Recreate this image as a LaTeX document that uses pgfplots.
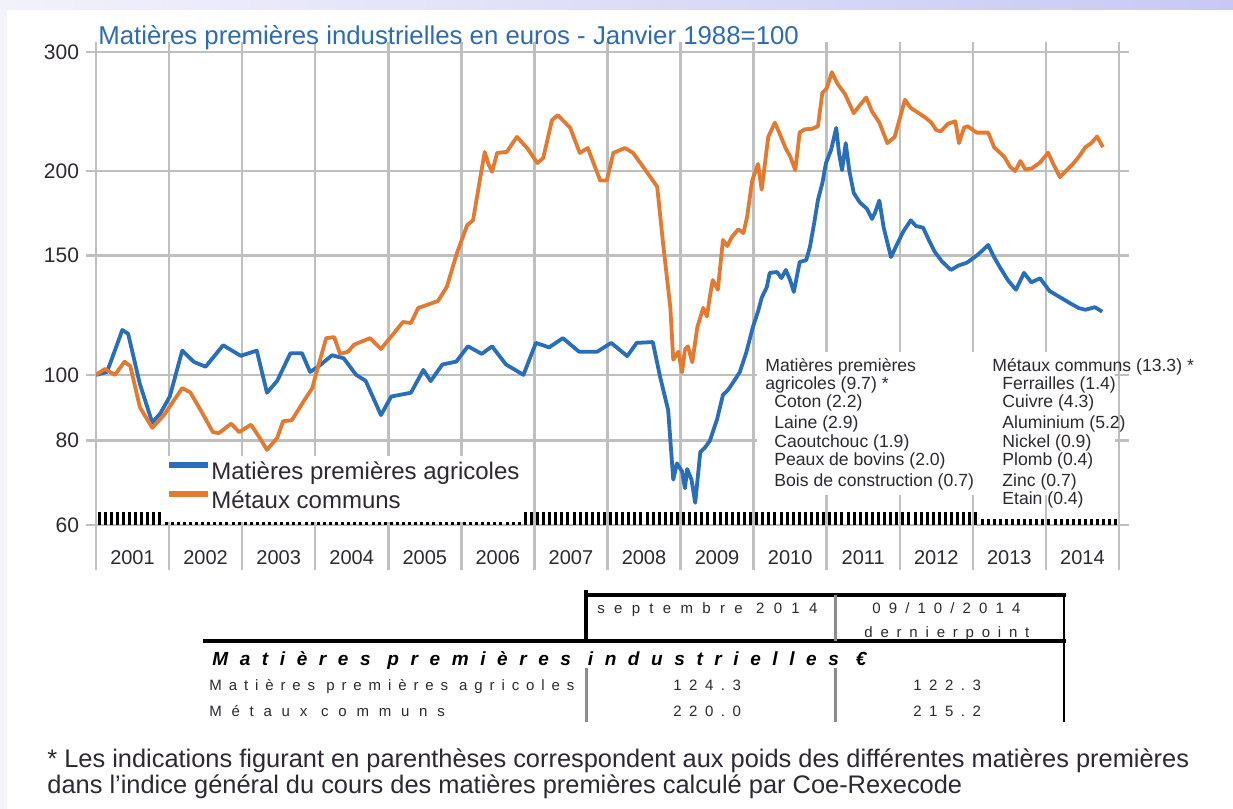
\documentclass[border=0pt]{standalone}
\usepackage{fontspec}
\setmainfont{Liberation Sans}
\usepackage{pgfplots}
\pgfplotsset{compat=1.18}
\definecolor{gridgray}{RGB}{191,191,191}
\definecolor{agblue}{RGB}{40,110,185}
\definecolor{metorange}{RGB}{226,122,50}
\definecolor{titleblue}{RGB}{46,108,178}
\definecolor{txt}{RGB}{45,40,50}
\definecolor{tabgray}{RGB}{140,140,140}
\definecolor{lavA}{RGB}{242,242,252}
\definecolor{lavB}{RGB}{200,200,245}
\definecolor{lavC}{RGB}{244,244,253}

\begin{document}
\begin{tikzpicture}
\begin{scope}[x=0.5pt,y=-0.5pt]
\fill[white] (0,0) rectangle (1233,809);
\shade[left color=lavA, right color=lavB] (0,0) rectangle (1233,9);
\fill[lavC] (0,9) rectangle (7,809);
\end{scope}

\begin{axis}[
  at={(48pt,-262.5pt)}, anchor=south west,
  scale only axis, width=511.5pt, height=236.5pt,
  xmin=2001, xmax=2015,
  ymode=log, ymin=60, ymax=300,
  ytick={60,80,100,150,200,300},
  yticklabels={60,80,100,150,200,300},
  yminorticks=false,
  xtick={2001,2002,2003,2004,2005,2006,2007,2008,2009,2010,2011,2012,2013,2014,2015},
  xticklabels={2001,2002,2003,2004,2005,2006,2007,2008,2009,2010,2011,2012,2013,2014,{}},
  xticklabel style={xshift=18.25pt, anchor=base, yshift=-15pt, font=\fontsize{10}{12}\selectfont},
  yticklabel style={anchor=east, font=\fontsize{10.5}{12}\selectfont},
  tick label style={text=txt},
  /pgf/number format/assume math mode=true,
  grid=major, grid style={gridgray, line width=1.25pt},
  axis line style={gridgray, line width=1.25pt},
  tick align=outside, major tick length=5pt,
  tick style={gridgray, line width=1.25pt},
  legend cell align=left,
  legend image code/.code={\draw[#1, line width=3pt] (0pt,4.3pt) -- (19.5pt,4.3pt);},
  legend style={at={(0.0684,0.1353)}, anchor=north west, draw=none, fill=none,
    font=\fontsize{12}{14}\selectfont, text=txt, inner sep=0pt, row sep=2.5pt, column sep=0pt,
    nodes={inner sep=0pt, text height=9pt, text depth=3pt}},
]
\fill[white] (rel axis cs:0.0626,0.006) rectangle (rel axis cs:0.4096,0.1459);
\fill[white] (rel axis cs:0.646,0.0634) rectangle (rel axis cs:0.996,0.3658);

\addplot[agblue, line width=1.9pt, line join=round] coordinates {
(2001.00,100) (2001.08,100.5) (2001.15,101) (2001.25,108) (2001.36,116.5) (2001.44,115)
(2001.60,97) (2001.77,85) (2001.88,87.7) (2002.01,92.9) (2002.18,108.6) (2002.34,104.5)
(2002.50,102.8) (2002.74,110.6) (2002.98,106.7) (2003.20,108.6) (2003.34,94.1) (2003.48,98.0)
(2003.66,107.6) (2003.82,107.6) (2003.93,101.0) (2004.04,102.8) (2004.23,106.9) (2004.39,105.8)
(2004.56,100.0) (2004.69,98.0) (2004.90,87.2) (2005.04,92.9) (2005.31,94.1) (2005.48,101.7)
(2005.58,97.9) (2005.74,103.6) (2005.93,104.6) (2006.09,110.2) (2006.28,107.4) (2006.42,110.2)
(2006.61,103.6) (2006.85,100.0) (2007.02,111.5) (2007.20,109.8) (2007.39,113.3) (2007.61,108.2)
(2007.86,108.2) (2008.05,111.5) (2008.27,106.6) (2008.40,111.5) (2008.62,111.8) (2008.72,99.3)
(2008.83,88.7) (2008.90,70.0) (2008.95,74) (2009.02,72.0) (2009.06,68) (2009.09,72.6)
(2009.15,70) (2009.20,64.7) (2009.27,76.9) (2009.33,78) (2009.40,79.9) (2009.50,86)
(2009.58,93.4) (2009.65,95) (2009.72,97.5) (2009.81,100.9) (2009.90,108) (2009.99,117.7)
(2010.06,124) (2010.11,130) (2010.18,134.8) (2010.22,141.5) (2010.32,141.9) (2010.38,139)
(2010.44,142.9) (2010.50,138) (2010.55,132.6) (2010.63,146.8) (2010.72,147.8) (2010.77,154.5)
(2010.83,168) (2010.88,181.3) (2010.94,192) (2010.99,205.6) (2011.06,215) (2011.13,231.7)
(2011.17,212) (2011.21,200.7) (2011.26,220) (2011.31,200) (2011.37,185.7) (2011.45,180)
(2011.55,176) (2011.62,170) (2011.66,173.5) (2011.72,181) (2011.78,165) (2011.88,149.3)
(2011.95,155) (2012.05,163) (2012.15,169.2) (2012.22,166) (2012.32,165) (2012.40,158)
(2012.48,151.9) (2012.58,147) (2012.70,142.9) (2012.80,145) (2012.92,146.5) (2013.05,150)
(2013.14,153) (2013.21,155.6) (2013.28,150) (2013.37,144.2) (2013.48,138) (2013.59,133.6)
(2013.70,141.5) (2013.80,137) (2013.92,138.9) (2014.05,133) (2014.19,130.3) (2014.33,127.6)
(2014.45,125.5) (2014.54,124.8) (2014.67,125.9) (2014.77,124)
};
\addlegendentry{Matières premières agricoles}

\addplot[metorange, line width=1.9pt, line join=round] coordinates {
(2001.00,100) (2001.12,102) (2001.26,100) (2001.39,104.6) (2001.47,103) (2001.60,89.6)
(2001.77,83.5) (2001.93,87.2) (2002.18,95.6) (2002.29,94.2) (2002.45,88) (2002.60,82.3)
(2002.68,82) (2002.85,84.7) (2002.96,82.3) (2003.12,84.4) (2003.20,82) (2003.34,77.5)
(2003.48,80.7) (2003.56,85.4) (2003.68,85.7) (2003.85,91.7) (2003.96,95.6) (2004.01,100.2)
(2004.15,113.3) (2004.26,113.7) (2004.34,107.4) (2004.45,108.2) (2004.53,110.8) (2004.75,113.3)
(2004.90,109.2) (2005.09,115.7) (2005.20,119.7) (2005.31,119.3) (2005.41,125.6) (2005.57,127.3)
(2005.68,128.6) (2005.80,134.8) (2005.94,151.4) (2006.08,166.5) (2006.16,169.2) (2006.26,196)
(2006.32,213.5) (2006.37,205) (2006.42,199.6) (2006.49,212.8) (2006.62,213.5) (2006.76,224.7)
(2006.90,216.4) (2007.04,205.6) (2007.12,209.1) (2007.24,237.9) (2007.32,242) (2007.49,231.7)
(2007.62,212.8) (2007.73,216.4) (2007.90,193.7) (2007.99,193.7) (2008.08,212.8) (2008.24,216.4)
(2008.35,212.8) (2008.49,202.8) (2008.68,189.7) (2008.76,156.6) (2008.86,125.6) (2008.90,105.3)
(2008.97,108.2) (2009.02,100.9) (2009.06,109) (2009.10,110.2) (2009.16,104.4) (2009.23,117.7)
(2009.31,125.6) (2009.36,122) (2009.40,130.3) (2009.44,138.1) (2009.51,133.6) (2009.58,158.2)
(2009.64,155) (2009.70,159.8) (2009.79,164.1) (2009.86,162) (2009.91,171.1) (2009.98,193.7)
(2010.06,204.9) (2010.11,187.8) (2010.20,224.7) (2010.29,235.9) (2010.35,228) (2010.44,216)
(2010.50,210.3) (2010.57,200.7) (2010.63,228.2) (2010.70,230.6) (2010.80,231) (2010.88,233)
(2010.94,261) (2011.00,265) (2011.07,280) (2011.15,269) (2011.25,260) (2011.37,243.6)
(2011.45,250) (2011.54,257) (2011.62,245) (2011.72,236) (2011.83,220) (2011.93,224.7)
(2012.07,255) (2012.15,248) (2012.26,243.6) (2012.35,240) (2012.43,236) (2012.50,230)
(2012.56,229) (2012.66,235) (2012.76,237) (2012.81,220) (2012.88,232) (2012.93,233)
(2013.05,228) (2013.21,228) (2013.29,217) (2013.43,210) (2013.51,203) (2013.58,200)
(2013.65,207) (2013.72,201) (2013.81,202) (2013.92,206) (2014.03,213) (2014.10,205)
(2014.19,196) (2014.27,200) (2014.37,205) (2014.45,210) (2014.54,217) (2014.62,220)
(2014.70,225) (2014.78,217)
};
\addlegendentry{Métaux communs}
\end{axis}

% monthly marker band and year separators below the axis
\begin{axis}[
  at={(48pt,-262.5pt)}, anchor=south west,
  scale only axis, width=511.5pt, height=236.5pt,
  xmin=0, xmax=168, ymin=0, ymax=473,
  hide axis, clip=false,
]
\addplot[ycomb, black, line width=1.5pt, no marks] coordinates {
(0.5,13) (1.5,13) (2.5,13) (3.5,13) (4.5,13) (5.5,13) (6.5,13) (7.5,13) (8.5,13) (9.5,13) (10.5,13)
(70.5,13) (71.5,13)
(72.5,13) (73.5,13) (74.5,13) (75.5,13) (76.5,13) (77.5,13) (78.5,13) (79.5,13) (80.5,13) (81.5,13) (82.5,13) (83.5,13)
(84.5,13) (85.5,13) (86.5,13) (87.5,13) (88.5,13) (89.5,13) (90.5,13) (91.5,13) (92.5,13) (93.5,13) (94.5,13) (95.5,13)
(96.5,13) (97.5,13) (98.5,13) (99.5,13) (100.5,13) (101.5,13) (102.5,13) (103.5,13) (104.5,13) (105.5,13) (106.5,13) (107.5,13)
(108.5,13) (109.5,13) (110.5,13) (111.5,13) (112.5,13) (113.5,13) (114.5,13) (115.5,13) (116.5,13) (117.5,13) (118.5,13) (119.5,13)
(120.5,13) (121.5,13) (122.5,13) (123.5,13) (124.5,13) (125.5,13) (126.5,13) (127.5,13) (128.5,13) (129.5,13) (130.5,13) (131.5,13)
(132.5,13) (133.5,13) (134.5,13) (135.5,13) (136.5,13) (137.5,13) (138.5,13) (139.5,13) (140.5,13) (141.5,13) (142.5,13) (143.5,13)
(144.5,13)
};
\addplot[ycomb, black, line width=1.5pt, no marks] coordinates {
(11.5,3.5) (12.5,3.5) (13.5,3.5) (14.5,3.5) (15.5,3.5) (16.5,3.5) (17.5,3.5) (18.5,3.5) (19.5,3.5) (20.5,3.5) (21.5,3.5) (22.5,3.5) (23.5,3.5)
(24.5,3.5) (25.5,3.5) (26.5,3.5) (27.5,3.5) (28.5,3.5) (29.5,3.5) (30.5,3.5) (31.5,3.5) (32.5,3.5) (33.5,3.5) (34.5,3.5) (35.5,3.5)
(36.5,3.5) (37.5,3.5) (38.5,3.5) (39.5,3.5) (40.5,3.5) (41.5,3.5) (42.5,3.5) (43.5,3.5) (44.5,3.5) (45.5,3.5) (46.5,3.5) (47.5,3.5)
(48.5,3.5) (49.5,3.5) (50.5,3.5) (51.5,3.5) (52.5,3.5) (53.5,3.5) (54.5,3.5) (55.5,3.5) (56.5,3.5) (57.5,3.5) (58.5,3.5) (59.5,3.5)
(60.5,3.5) (61.5,3.5) (62.5,3.5) (63.5,3.5) (64.5,3.5) (65.5,3.5) (66.5,3.5) (67.5,3.5) (68.5,3.5) (69.5,3.5)
};
\addplot[ycomb, black, line width=1.5pt, no marks] coordinates {
(145.5,6) (146.5,6) (147.5,6) (148.5,6) (149.5,6) (150.5,6) (151.5,6) (152.5,6) (153.5,6) (154.5,6) (155.5,6)
(156.5,6) (157.5,6) (158.5,6) (159.5,6) (160.5,6) (161.5,6) (162.5,6) (163.5,6) (164.5,6) (165.5,6) (166.5,6) (167.5,6)
};
\addplot[ycomb, gridgray, line width=1.25pt, no marks] coordinates {
(0,-45) (12,-45) (24,-45) (36,-45) (48,-45) (60,-45) (72,-45) (84,-45) (96,-45) (108,-45) (120,-45) (132,-45) (144,-45) (156,-45) (168,-45)
};
\end{axis}

\begin{scope}[x=0.5pt,y=-0.5pt]
% title
\node[anchor=base west, inner sep=0pt, text=titleblue, font=\fontsize{12.9}{15}\selectfont] at (98,44) {Matières premières industrielles en euros - Janvier 1988=100};

% composition box
\begin{scope}[every node/.style={anchor=base west, inner sep=0pt, text=txt, font=\fontsize{8.8}{10}\selectfont}]
\node at (765,371) {Matières premières};
\node at (765,389) {agricoles (9.7) *};
\node at (774,407) {Coton (2.2)};
\node at (774,428) {Laine (2.9)};
\node at (774,447) {Caoutchouc (1.9)};
\node at (774,465) {Peaux de bovins (2.0)};
\node at (774,486) {Bois de construction (0.7)};
\node at (992,371) {Métaux communs (13.3) *};
\node at (1002,389) {Ferrailles (1.4)};
\node at (1002,407) {Cuivre (4.3)};
\node at (1002,428) {Aluminium (5.2)};
\node at (1002,447) {Nickel (0.9)};
\node at (1002,465) {Plomb (0.4)};
\node at (1002,486) {Zinc (0.7)};
\node at (1002,504) {Etain (0.4)};
\end{scope}

% table
\draw[black, line width=2pt] (586,590) -- (586,643);
\draw[black, line width=1.8pt] (585,595) -- (1066,595);
\draw[black, line width=1.8pt] (203,641) -- (1066,641);
\draw[tabgray, line width=1.5pt] (835,595) -- (835,641);
\draw[tabgray, line width=1.5pt] (586,668) -- (586,722);
\draw[tabgray, line width=1.5pt] (835,668) -- (835,722);
\draw[black, line width=1.2pt] (1064,595) -- (1064,722);

\begin{scope}[every node/.style={inner sep=0pt, text=txt}]
\node[anchor=base west] at (597,613) {\fontsize{7.5}{8}\selectfont\addfontfeature{LetterSpace=62}septembre 2014};
\node[anchor=base west] at (872,613) {\fontsize{7.5}{8}\selectfont\addfontfeature{LetterSpace=54}09/10/2014};
\node[anchor=base west] at (864,637) {\fontsize{7.5}{8}\selectfont\addfontfeature{LetterSpace=52}dernierpoint};
\node[anchor=base west, text=black] at (212,665) {\fontsize{9.5}{10}\selectfont\bfseries\itshape\addfontfeature{LetterSpace=61}Matières premières industrielles €};
\node[anchor=base west] at (209,690) {\fontsize{7.5}{8}\selectfont\addfontfeature{LetterSpace=46}Matières premières agricoles};
\node[anchor=base west] at (209,716) {\fontsize{7.5}{8}\selectfont\addfontfeature{LetterSpace=65}Métaux communs};
\node[anchor=base west] at (673,690) {\fontsize{7.5}{8}\selectfont\addfontfeature{LetterSpace=50}124.3};
\node[anchor=base west] at (913,690) {\fontsize{7.5}{8}\selectfont\addfontfeature{LetterSpace=50}122.3};
\node[anchor=base west] at (673,716) {\fontsize{7.5}{8}\selectfont\addfontfeature{LetterSpace=50}220.0};
\node[anchor=base west] at (913,716) {\fontsize{7.5}{8}\selectfont\addfontfeature{LetterSpace=50}215.2};
\end{scope}

% footnote
\node[anchor=base west, inner sep=0pt, text=txt, font=\fontsize{12.7}{15}\selectfont] at (47,767) {* Les indications figurant en parenthèses correspondent aux poids des différentes matières premières};
\node[anchor=base west, inner sep=0pt, text=txt, font=\fontsize{12.7}{15}\selectfont] at (47,793) {dans l'indice général du cours des matières premières calculé par Coe-Rexecode};
\end{scope}
\end{tikzpicture}
\end{document}
